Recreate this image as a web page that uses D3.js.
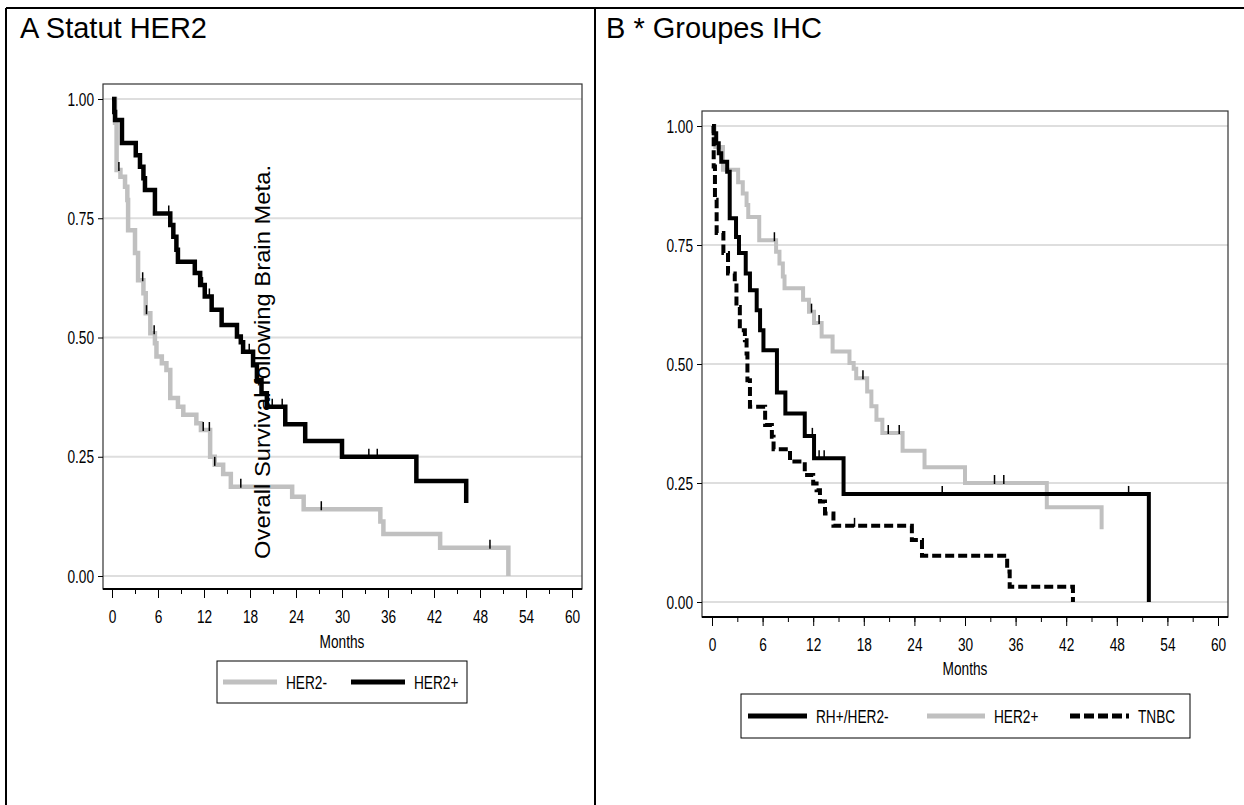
<!DOCTYPE html>
<html>
<head>
<meta charset="utf-8">
<script src="https://cdn.jsdelivr.net/npm/d3@7/dist/d3.min.js"></script>
<style>
  html, body { margin: 0; padding: 0; background: #fff; }
  svg { display: block; }
  .tick text, .lbl { font-family: "Liberation Sans", Arial, sans-serif; font-size: 19px; fill: #000; }
  .title { font-family: "Liberation Sans", Arial, sans-serif; font-size: 29px; fill: #000; }
</style>
</head>
<body>
<svg id="chart" width="1244" height="805"></svg>
<script>
// Kaplan-Meier steps: [month, survival after the drop]
const her2Neg = [[0,1],[0.4,0.950],[0.6,0.851],[1.1,0.837],[1.7,0.816],[2.0,0.788],[2.1,0.725],[3.0,0.677],
  [3.4,0.620],[4.1,0.593],[4.4,0.551],[5.0,0.509],[5.6,0.488],[5.8,0.460],[6.5,0.446],[7.1,0.432],[7.6,0.373],
  [8.6,0.355],[9.3,0.338],[11.0,0.320],[11.6,0.306],[12.8,0.250],[13.4,0.233],[14.5,0.214],[15.5,0.187],
  [23.5,0.166],[25.0,0.140],[35.0,0.114],[35.4,0.088],[42.8,0.059],[51.7,0]];
const her2NegCens = [0.9, 4.0, 4.5, 5.5, 11.9, 12.7, 13.4, 16.8, 27.3, 49.3];

const her2Pos = [[0,1],[0.3,0.973],[0.4,0.956],[1.3,0.908],[3.1,0.882],[3.65,0.858],[4.1,0.834],[4.3,0.809],
  [5.6,0.760],[7.6,0.736],[8.0,0.711],[8.4,0.684],[8.6,0.659],[10.8,0.635],[11.5,0.610],[12.1,0.586],
  [13.0,0.558],[14.3,0.526],[16.3,0.502],[16.8,0.490],[17.1,0.470],[18.4,0.442],[18.9,0.411],[19.5,0.383],
  [20.2,0.355],[22.6,0.318],[25.2,0.283],[30.0,0.250],[39.7,0.199],[46.2,0.153]];
const her2PosCens = [7.4, 11.8, 12.7, 17.9, 20.9, 22.2, 33.5, 34.6];

const rhHer2Neg = [[0,1],[0.2,0.985],[0.5,0.964],[0.8,0.943],[1.1,0.925],[1.8,0.904],[2.1,0.806],[2.85,0.767],
  [3.2,0.733],[4.0,0.690],[4.5,0.655],[5.3,0.613],[5.7,0.571],[6.1,0.529],[7.7,0.440],[8.7,0.396],
  [11.0,0.349],[12.1,0.302],[15.6,0.227],[51.8,0]];
const rhHer2NegCens = [11.9, 12.7, 13.3, 27.3, 49.4];

const tnbc = [[0,1],[0.2,0.915],[0.35,0.845],[0.55,0.775],[1.35,0.733],[1.9,0.690],[2.7,0.670],[2.9,0.620],
  [3.3,0.571],[3.9,0.550],[4.1,0.522],[4.2,0.466],[4.5,0.410],[6.3,0.372],[7.1,0.347],[7.3,0.321],
  [9.25,0.295],[11.0,0.267],[12.0,0.249],[12.4,0.235],[12.8,0.211],[13.4,0.186],[14.4,0.160],[23.7,0.130],
  [24.9,0.097],[35.0,0.064],[35.3,0.032],[42.8,0]];
const tnbcCens = [16.9];

const yTicks = [0, 0.25, 0.5, 0.75, 1];
const xTicks = d3.range(0, 61, 6);
const xMinor = d3.range(0, 61, 3);

const GRAY = '#c0c0c0';
const NARROW = 0.72; // the SAS labels are set in a condensed face
const svg = d3.select('#chart');

// table frame around the two panels
svg.append('g').selectAll('line')
  .data([[6, 8, 1244, 8], [6, 8, 6, 805], [595, 8, 595, 805]])
  .join('line')
    .attr('x1', d => d[0]).attr('y1', d => d[1]).attr('x2', d => d[2]).attr('y2', d => d[3])
    .attr('stroke', '#000').attr('stroke-width', 2);

// survival value at time t (for placing censor marks)
function survAt(steps, t) {
  let s = 1;
  steps.forEach(d => { if (d[0] <= t) s = d[1]; });
  return s;
}

// condensed label at (x, y)
function narrowText(sel, x, y, txt, anchor) {
  return sel.append('text').attr('class', 'lbl')
    .attr('transform', `translate(${x},${y}) scale(${NARROW},1)`)
    .attr('text-anchor', anchor || 'start')
    .text(txt);
}

function drawPanel(p) {
  const g = svg.append('g');
  const x = d3.scaleLinear().domain([0, 60]).range([p.x0, p.x60]);
  const y = d3.scaleLinear().domain([0, 1]).range([p.y0, p.y1]);

  g.append('text').attr('class', 'title').attr('x', p.titleX).attr('y', 38).text(p.title);

  // horizontal reference lines
  g.selectAll('line.grid').data(yTicks).join('line')
    .attr('class', 'grid')
    .attr('x1', p.left).attr('x2', p.right)
    .attr('y1', d => y(d)).attr('y2', d => y(d))
    .attr('stroke', '#dedede').attr('stroke-width', 2);

  g.append('rect')
    .attr('x', p.left).attr('y', p.top)
    .attr('width', p.right - p.left).attr('height', p.bottom - p.top)
    .attr('fill', 'none').attr('stroke', '#333').attr('stroke-width', 1.2);
  g.append('line')
    .attr('x1', p.left).attr('x2', p.right).attr('y1', p.bottom).attr('y2', p.bottom)
    .attr('stroke', '#000').attr('stroke-width', 2);

  g.append('g').attr('transform', `translate(${p.left},0)`)
    .call(d3.axisLeft(y).tickValues(yTicks).tickFormat(d3.format('.2f')).tickSize(5).tickPadding(4))
    .call(a => a.select('.domain').remove())
    .call(a => a.selectAll('.tick text').attr('transform', `translate(-9,0) scale(${NARROW},1)`).attr('x', 0));

  g.append('g').attr('transform', `translate(0,${p.bottom})`)
    .call(d3.axisBottom(x).tickValues(xMinor).tickSize(5).tickFormat(''))
    .call(a => a.select('.domain').remove());
  g.append('g').attr('transform', `translate(0,${p.bottom})`)
    .call(d3.axisBottom(x).tickValues(xTicks).tickSize(9).tickPadding(12))
    .call(a => a.select('.domain').remove())
    .call(a => a.selectAll('.tick text').attr('transform', `scale(${NARROW},1)`));
  g.selectAll('.tick line').attr('stroke', '#000');

  narrowText(g, x(30), p.bottom + p.monthsDy, 'Months', 'middle');

  const line = d3.line().x(d => x(d[0])).y(d => y(d[1])).curve(d3.curveStepAfter);
  p.series.forEach(s => {
    g.append('path').datum(s.steps)
      .attr('d', line)
      .attr('fill', 'none')
      .attr('stroke', s.color)
      .attr('stroke-width', s.width)
      .attr('stroke-dasharray', s.dash || null);
    g.append('g').selectAll('line').data(s.cens).join('line')
      .attr('x1', d => x(d)).attr('x2', d => x(d))
      .attr('y1', d => y(survAt(s.steps, d)) - 8)
      .attr('y2', d => y(survAt(s.steps, d)) + 1)
      .attr('stroke', '#000').attr('stroke-width', 1.5);
  });

  // legend
  const lg = g.append('g');
  lg.append('rect')
    .attr('x', p.legend.x).attr('y', p.legend.y)
    .attr('width', p.legend.w).attr('height', p.legend.h)
    .attr('fill', '#fff').attr('stroke', '#000').attr('stroke-width', 1);
  const cy = p.legend.y + p.legend.h / 2;
  p.legend.items.forEach(it => {
    const s = p.series.find(d => d.name === it.name);
    lg.append('line')
      .attr('x1', it.x).attr('x2', it.x + it.len)
      .attr('y1', cy).attr('y2', cy)
      .attr('stroke', s.color).attr('stroke-width', 5)
      .attr('stroke-dasharray', s.dash ? '10,4' : null);
    narrowText(lg, it.x + it.len + 9, cy + 7, it.name);
  });

  if (p.yLabel) {
    g.append('text')
      .attr('transform', `translate(${p.yLabel.x},${p.yLabel.y}) rotate(-90)`)
      .attr('text-anchor', 'middle')
      .attr('font-family', '"Liberation Sans", Arial, sans-serif')
      .attr('font-size', 22)
      .attr('textLength', 394).attr('lengthAdjust', 'spacingAndGlyphs')
      .text(p.yLabel.text);
  }
}

drawPanel({
  title: 'A Statut HER2', titleX: 20,
  left: 103, top: 84, right: 582, bottom: 589,
  x0: 112, x60: 572, y0: 576, y1: 99,
  monthsDy: 59,
  series: [
    {name: 'HER2-', steps: her2Neg, cens: her2NegCens, color: GRAY, width: 4.5},
    {name: 'HER2+', steps: her2Pos, cens: her2PosCens, color: '#000', width: 4.5}
  ],
  legend: {x: 217, y: 661, w: 250, h: 42, items: [
    {name: 'HER2-', x: 223, len: 54}, {name: 'HER2+', x: 351, len: 54}]},
  yLabel: {x: 270, y: 362, text: 'Overall Survival following Brain Meta.'}
});

drawPanel({
  title: 'B * Groupes IHC', titleX: 606,
  left: 702, top: 111, right: 1228, bottom: 617,
  x0: 712, x60: 1218, y0: 602, y1: 126,
  monthsDy: 58,
  series: [
    {name: 'HER2+', steps: her2Pos, cens: her2PosCens, color: GRAY, width: 4},
    {name: 'RH+/HER2-', steps: rhHer2Neg, cens: rhHer2NegCens, color: '#000', width: 4},
    {name: 'TNBC', steps: tnbc, cens: tnbcCens, color: '#000', width: 4, dash: '9,4'}
  ],
  legend: {x: 741, y: 694, w: 449, h: 44, items: [
    {name: 'RH+/HER2-', x: 748, len: 59}, {name: 'HER2+', x: 927, len: 58}, {name: 'TNBC', x: 1070, len: 59}]}
});
</script>
</body>
</html>
